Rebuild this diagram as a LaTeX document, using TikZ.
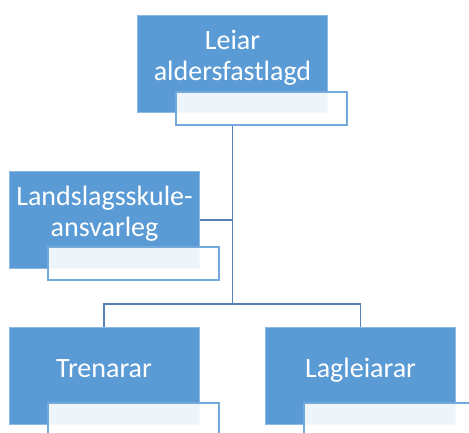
\documentclass[tikz,border=0pt]{standalone}
\usepackage{fontspec}
\setmainfont{Carlito}
\usepackage{tikz}

\definecolor{boxblue}{RGB}{91,155,213}
\definecolor{linkblue}{RGB}{86,128,182}
\newcommand{\boxstrut}{\rule[-17pt]{0pt}{37pt}}

\begin{document}
\begin{tikzpicture}[x=1pt,y=-1pt]
\tikzstyle{role}=[fill=boxblue,draw=boxblue!70!white,line width=0.6pt,text=white,
  minimum width=190pt,minimum height=97pt,inner sep=1pt,align=center,
  font=\fontsize{28}{31}\selectfont];
\tikzstyle{tag}=[fill=white,fill opacity=0.9,draw=boxblue!85!white,line width=1.2pt,
  minimum width=171pt,minimum height=33pt,inner sep=0pt];
\tikzstyle{link}=[draw=linkblue,line width=1.4pt];
% frame
    \useasboundingbox (0,0) rectangle (469,433);
    \clip (0,0) rectangle (469,433);
% boxes
    \node[role] (lead) at (232.5,64) {Leiar\\aldersfastlagd\boxstrut};
    \node[tag] (leadtag) at (261.5,108.5) {};
    \node[role] (school) at (104.5,220) {Landslagsskule-\\ansvarleg\boxstrut};
    \node[tag] (schooltag) at (133.5,263.5) {};
    \node[role] (trainers) at (104,375.5) {Trenarar\boxstrut};
    \node[tag] (trainerstag) at (133.5,419.5) {};
    \node[role] (leaders) at (360.5,375.5) {Lagleiarar\boxstrut};
    \node[tag] (leaderstag) at (389.5,419.5) {};
% links
    \coordinate (fork) at (232.5,304);
    \draw[link] (lead.south |- leadtag.south) -- (fork);
    \draw[link] (school.east) -- (school.east -| fork);
    \draw[link] (trainers.north) |- (fork) -| (leaders.north);
\end{tikzpicture}
\end{document}
